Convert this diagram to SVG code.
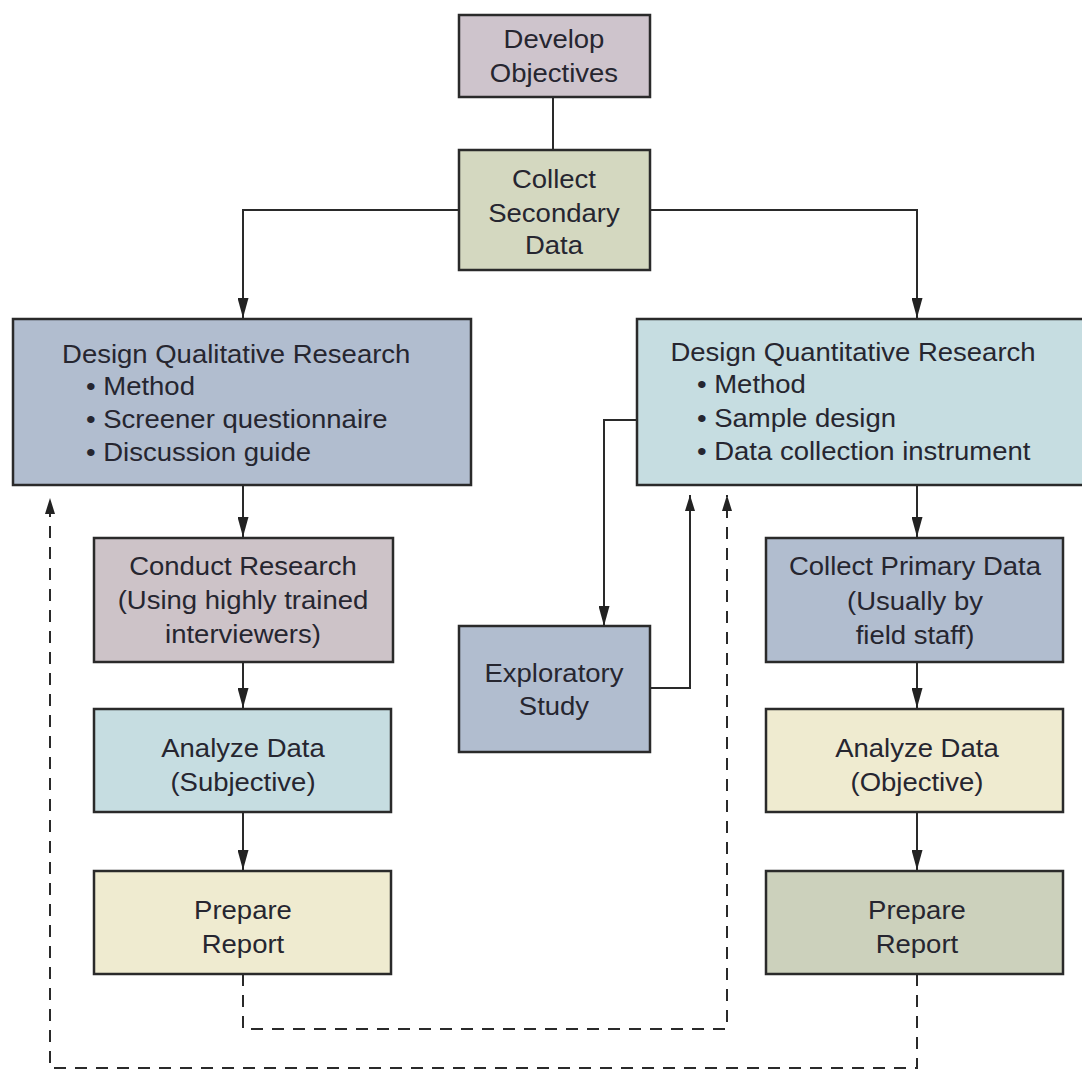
<svg xmlns="http://www.w3.org/2000/svg" width="1082" height="1072" viewBox="0 0 1082 1072">
<defs>
<marker id="ah" viewBox="0 0 20 11" refX="20" refY="5.5" markerWidth="20" markerHeight="11" markerUnits="userSpaceOnUse" orient="auto">
<path d="M0,0 L20,5.5 L0,11 Z" fill="#222"/>
</marker>
<marker id="ahs" viewBox="0 0 16 10" refX="16" refY="5" markerWidth="16" markerHeight="10" markerUnits="userSpaceOnUse" orient="auto">
<path d="M0,0 L16,5 L0,10 Z" fill="#222"/>
</marker>
<style>
.box{stroke:#2a2a2a;stroke-width:2.5}
text{font-family:'Liberation Sans',Arial,Helvetica,sans-serif;font-size:25px;fill:#262630}
.c{text-anchor:middle}
.ln{fill:none;stroke:#2a2a2a;stroke-width:2}
.dash{fill:none;stroke:#2a2a2a;stroke-width:2;stroke-dasharray:12,9}
</style>
</defs>
<rect width="1082" height="1072" fill="#ffffff"/>
<g id="connectors">
<path class="ln" d="M553,97 L553,150"/>
<path class="ln" d="M459,210 L243,210 L243,318" marker-end="url(#ah)"/>
<path class="ln" d="M650,210 L917,210 L917,318" marker-end="url(#ah)"/>
<path class="ln" d="M243,485 L243,537" marker-end="url(#ah)"/>
<path class="ln" d="M243,662 L243,708" marker-end="url(#ah)"/>
<path class="ln" d="M243,812 L243,870" marker-end="url(#ah)"/>
<path class="ln" d="M917,485 L917,537" marker-end="url(#ah)"/>
<path class="ln" d="M917,662 L917,708" marker-end="url(#ah)"/>
<path class="ln" d="M917,812 L917,870" marker-end="url(#ah)"/>
<path class="ln" d="M637,420 L604,420 L604,626" marker-end="url(#ah)"/>
<path class="ln" d="M650,688 L690,688 L690,495" marker-end="url(#ahs)"/>
<path class="dash" d="M243,974 L243,1029 L727,1029 L727,495" marker-end="url(#ahs)"/>
<path class="dash" d="M917,974 L917,1068 L50,1068 L50,498" marker-end="url(#ahs)"/>
</g>
<g id="develop-objectives">
<rect class="box" x="459" y="15" width="191" height="82" fill="#cec4cc"/>
<g transform="scale(1.1,1)">
<text class="c" x="503.6" y="48">Develop</text>
<text class="c" x="503.6" y="82">Objectives</text>
</g>
</g>
<g id="collect-secondary">
<rect class="box" x="459" y="150" width="191" height="120" fill="#d4d8c0"/>
<g transform="scale(1.1,1)">
<text class="c" x="503.6" y="188">Collect</text>
<text class="c" x="503.6" y="222">Secondary</text>
<text class="c" x="503.6" y="254">Data</text>
</g>
</g>
<g id="design-qualitative">
<rect class="box" x="13" y="319" width="458" height="166" fill="#b1bdcf"/>
<g transform="scale(1.1,1)">
<text x="56.4" y="363">Design Qualitative Research</text>
<text x="78.2" y="395">• Method</text>
<text x="78.2" y="428">• Screener questionnaire</text>
<text x="78.2" y="461">• Discussion guide</text>
</g>
</g>
<g id="design-quantitative">
<rect class="box" x="637" y="319" width="450" height="166" fill="#c6dde1"/>
<g transform="scale(1.1,1)">
<text x="609.5" y="361">Design Quantitative Research</text>
<text x="633.6" y="393">• Method</text>
<text x="633.6" y="427">• Sample design</text>
<text x="633.6" y="460">• Data collection instrument</text>
</g>
</g>
<g id="conduct-research">
<rect class="box" x="94" y="538" width="299" height="124" fill="#cdc3c8"/>
<g transform="scale(1.1,1)">
<text class="c" x="220.9" y="575">Conduct Research</text>
<text class="c" x="220.9" y="609">(Using highly trained</text>
<text class="c" x="220.9" y="643">interviewers)</text>
</g>
</g>
<g id="analyze-subjective">
<rect class="box" x="94" y="709" width="297" height="103" fill="#c6dde1"/>
<g transform="scale(1.1,1)">
<text class="c" x="220.9" y="757">Analyze Data</text>
<text class="c" x="220.9" y="791">(Subjective)</text>
</g>
</g>
<g id="prepare-report-left">
<rect class="box" x="94" y="871" width="297" height="103" fill="#efebd0"/>
<g transform="scale(1.1,1)">
<text class="c" x="220.9" y="919">Prepare</text>
<text class="c" x="220.9" y="953">Report</text>
</g>
</g>
<g id="exploratory-study">
<rect class="box" x="459" y="626" width="191" height="126" fill="#b1bdcf"/>
<g transform="scale(1.1,1)">
<text class="c" x="503.6" y="682">Exploratory</text>
<text class="c" x="503.6" y="715">Study</text>
</g>
</g>
<g id="collect-primary">
<rect class="box" x="766" y="538" width="297" height="124" fill="#b1bdcf"/>
<g transform="scale(1.1,1)">
<text class="c" x="831.8" y="575">Collect Primary Data</text>
<text class="c" x="831.8" y="610">(Usually by</text>
<text class="c" x="831.8" y="644">field staff)</text>
</g>
</g>
<g id="analyze-objective">
<rect class="box" x="766" y="709" width="297" height="103" fill="#efebd0"/>
<g transform="scale(1.1,1)">
<text class="c" x="833.6" y="757">Analyze Data</text>
<text class="c" x="833.6" y="791">(Objective)</text>
</g>
</g>
<g id="prepare-report-right">
<rect class="box" x="766" y="871" width="297" height="103" fill="#ccd1bc"/>
<g transform="scale(1.1,1)">
<text class="c" x="833.6" y="919">Prepare</text>
<text class="c" x="833.6" y="953">Report</text>
</g>
</g>
</svg>
